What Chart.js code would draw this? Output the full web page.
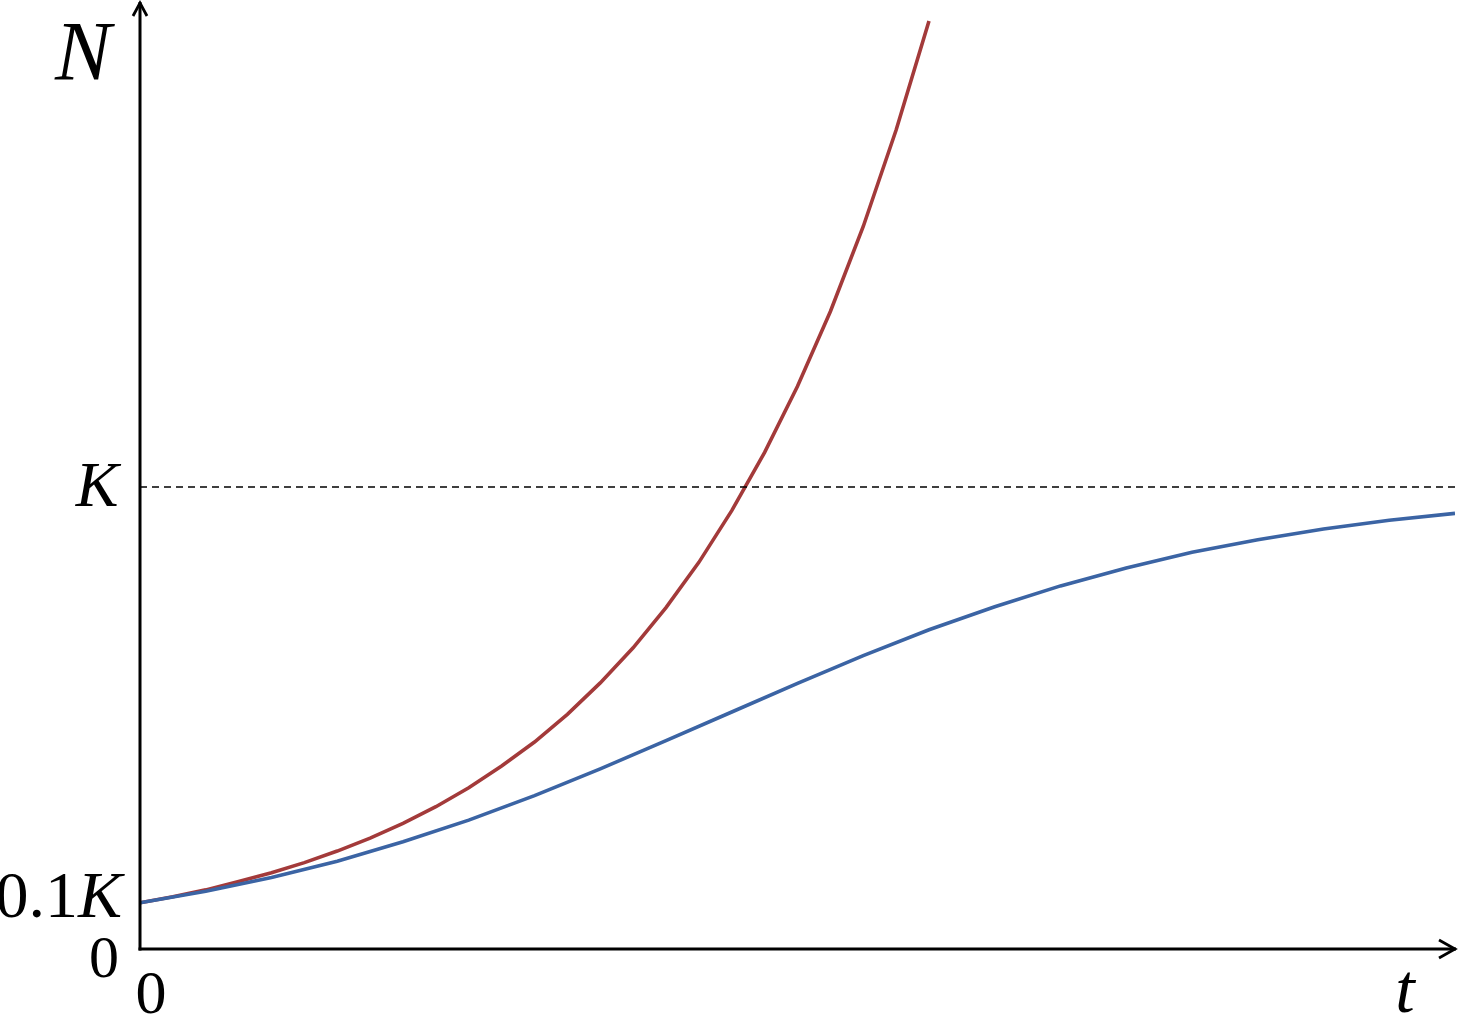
<!DOCTYPE html>
<html>
<head>
<meta charset="utf-8">
<script src="https://cdn.jsdelivr.net/npm/chart.js@4/dist/chart.umd.min.js"></script>
<style>
html,body{margin:0;padding:0;background:#fff;}
#wrap{width:1458px;height:1015px;position:relative;}
</style>
</head>
<body>
<div id="wrap"><canvas id="c"></canvas></div>
<script>
// Exponential growth (red)
const tRed = [0,0.25,0.5,0.75,1,1.25,1.5,1.75,2,2.25,2.5,2.75,3,3.25,3.5,3.75,4,4.25,4.5,4.75,5,5.25,5.5,5.75,6];
const nRed = [0.100,0.113,0.128,0.146,0.165,0.187,0.212,0.240,0.272,0.308,0.349,0.396,0.448,0.508,0.576,0.652,0.739,0.837,0.949,1.075,1.218,1.380,1.564,1.773,2.009];
// Logistic growth (blue)
const tBlue = [0,0.5,1,1.5,2,2.5,3,3.5,4,4.5,5,5.5,6,6.5,7,7.5,8,8.5,9,9.5,10];
const nBlue = [0.100,0.125,0.155,0.190,0.232,0.279,0.332,0.390,0.451,0.513,0.575,0.635,0.691,0.741,0.786,0.825,0.859,0.886,0.909,0.928,0.943];
// Carrying capacity line
const kLine = [1,1];
const kLineT = [0,10];
// Tick labels
const yLabelTop = 'N';
const yLabelK = 'K';
const yLabelSeedNum = '0.1';
const yLabelSeedK = 'K';
const yLabelZero = '0';
const xLabelZero = '0';
const xLabelEnd = 't';

const toXY = (xs, ys) => xs.map((x, i) => ({x: x, y: ys[i]}));

const SERIF = '"Liberation Serif", "Times New Roman", serif';

const axesPlugin = {
  id: 'axesPlugin',
  afterDatasetsDraw(chart) {
    const ctx = chart.ctx;
    const xs = chart.scales.x, ys = chart.scales.y;
    const x0 = xs.getPixelForValue(0);
    const y0 = ys.getPixelForValue(0);
    const xEnd = xs.right + 1;
    const yTop = ys.top;
    ctx.save();
    ctx.strokeStyle = '#000';
    ctx.lineWidth = 3;
    ctx.lineCap = 'butt';
    // y axis
    ctx.beginPath();
    ctx.moveTo(x0, y0 + 1.5);
    ctx.lineTo(x0, yTop);
    ctx.stroke();
    // x axis
    ctx.beginPath();
    ctx.moveTo(x0 - 1.5, y0);
    ctx.lineTo(xEnd, y0);
    ctx.stroke();
    // arrow heads
    ctx.lineWidth = 2.8;
    ctx.lineJoin = 'miter';
    ctx.beginPath();
    ctx.moveTo(x0 - 7, yTop + 14);
    ctx.lineTo(x0, yTop + 1);
    ctx.lineTo(x0 + 7, yTop + 14);
    ctx.stroke();
    ctx.beginPath();
    ctx.moveTo(xEnd - 17, y0 - 9);
    ctx.lineTo(xEnd - 1, y0);
    ctx.lineTo(xEnd - 17, y0 + 9);
    ctx.stroke();

    // labels
    ctx.fillStyle = '#000';
    ctx.textBaseline = 'alphabetic';
    ctx.textAlign = 'center';
    ctx.font = 'italic 84px ' + SERIF;
    ctx.fillText(yLabelTop, x0 - 57, yTop + 78);

    const yK = ys.getPixelForValue(kLine[0]);
    ctx.font = 'italic 64px ' + SERIF;
    ctx.fillText(yLabelK, x0 - 43, yK + 19);

    // 0.1K
    const ySeed = ys.getPixelForValue(nBlue[0]);
    ctx.textAlign = 'left';
    ctx.font = '66px ' + SERIF;
    const wNum = ctx.measureText(yLabelSeedNum).width;
    ctx.font = 'italic 66px ' + SERIF;
    const wK = ctx.measureText(yLabelSeedK).width;
    const startX = x0 - 18 - wNum - wK;
    ctx.font = '66px ' + SERIF;
    ctx.fillText(yLabelSeedNum, startX, ySeed + 14);
    ctx.font = 'italic 66px ' + SERIF;
    ctx.fillText(yLabelSeedK, startX + wNum, ySeed + 14);

    ctx.textAlign = 'center';
    ctx.font = '60px ' + SERIF;
    ctx.fillText(yLabelZero, x0 - 36, y0 + 28);
    ctx.font = '62px ' + SERIF;
    ctx.fillText(xLabelZero, x0 + 11, y0 + 64);
    ctx.font = 'italic 70px ' + SERIF;
    ctx.fillText(xLabelEnd, xs.getPixelForValue(tBlue[tBlue.length - 1]) - 50, y0 + 63);
    ctx.restore();
  }
};

new Chart(document.getElementById('c'), {
  type: 'line',
  data: {
    datasets: [
      {
        data: toXY(kLineT, kLine),
        borderColor: '#000',
        borderWidth: 1.6,
        borderDash: [7, 5],
        pointRadius: 0,
        fill: false
      },
      {
        data: toXY(tBlue, nBlue),
        borderColor: '#3B64A4',
        borderWidth: 3.6,
        pointRadius: 0,
        tension: 0,
        fill: false
      },
      {
        data: toXY(tRed, nRed),
        borderColor: '#A33A3A',
        borderWidth: 3.6,
        pointRadius: 0,
        tension: 0,
        fill: false
      }
    ]
  },
  options: {
    responsive: true,
    maintainAspectRatio: false,
    animation: false,
    layout: { padding: { left: 140, right: 3, top: 2, bottom: 66 } },
    plugins: { legend: { display: false }, tooltip: { enabled: false } },
    scales: {
      x: { type: 'linear', min: 0, max: 10, display: false },
      y: { type: 'linear', min: 0, max: 2.05, display: false }
    }
  },
  plugins: [axesPlugin]
});
</script>
</body>
</html>
